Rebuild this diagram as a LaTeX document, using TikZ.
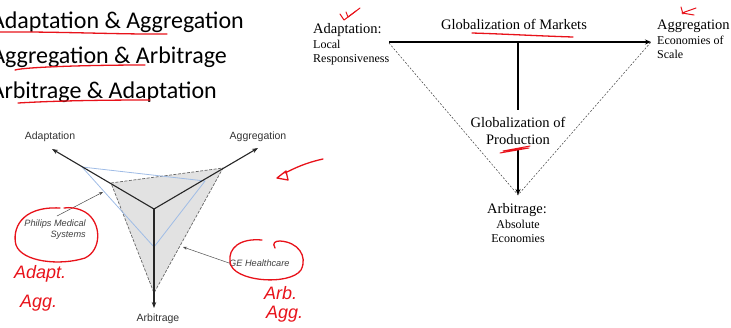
\documentclass[tikz,border=0pt]{standalone}
\usepackage{fontspec}
\setmainfont{Liberation Serif}
\newfontfamily\calibf{Carlito}
\newfontfamily\arialf{Liberation Sans}
\usetikzlibrary{arrows.meta}
\definecolor{inkred}{HTML}{E8121A}
\definecolor{polyblue}{HTML}{9FBCE6}
\definecolor{polygray}{HTML}{E2E2E2}
\begin{document}
\begin{tikzpicture}[x=1pt,y=-1pt,
  listtxt/.style={anchor=base east, inner sep=0pt, font=\calibf\fontsize{24}{24}\selectfont},
  redink/.style={draw=inkred, line width=1.3pt, line cap=round, line join=round},
  redtxt/.style={text=inkred, inner sep=0pt, font=\arialf\itshape\fontsize{18}{20}\selectfont},
  axislbl/.style={inner sep=0pt, text=black!80, font=\arialf\fontsize{10.5}{12}\selectfont},
  axisarrow/.style={line width=1.1pt, draw=black!85, -{Stealth[length=6pt,width=4.5pt]}},
  callout/.style={inner sep=0pt, text=black!75, font=\arialf\itshape\fontsize{9.2}{11}\selectfont},
  pointer/.style={line width=0.5pt, draw=black!70, -{Stealth[length=4pt,width=3pt]}},
  bigserif/.style={inner sep=0pt, font=\fontsize{14.5}{17}\selectfont},
  smallserif/.style={inner sep=0pt, font=\fontsize{12}{14}\selectfont},
  mainarrow/.style={line width=1.4pt, -{Stealth[length=6pt,width=5pt]}},
  thindash/.style={line width=0.5pt, draw=black!75, dash pattern=on 2pt off 1.6pt}
]
\useasboundingbox (0,0) rectangle (731,327);

% ---------- list at top left ----------
\node[listtxt] (l1) at (244,28) {Adaptation \& Aggregation};
\node[listtxt] (l2) at (227,63.5) {Aggregation \& Arbitrage};
\node[listtxt] (l3) at (217,98) {Arbitrage \& Adaptation};
\draw[redink] (0,32) .. controls (60,31.5) and (120,34.5) .. (167,34);
\draw[redink] (15,70) .. controls (25,67) and (90,65) .. (145,65);
\draw[redink] (18,103) .. controls (60,100.5) and (110,100) .. (150,100);

% ---------- left radar diagram ----------
\coordinate (C) at (154,209);
\coordinate (Ad) at (52,149);
\coordinate (Ag) at (258,148);
\coordinate (Ar) at (154,308);
\coordinate (G1) at (111,183);
\coordinate (G2) at (223,168);
\coordinate (G3) at (154,293);
\coordinate (B1) at (82,167);
\coordinate (B2) at (205,181);
\coordinate (B3) at (154,247);
\fill[polygray] (G1) -- (G2) -- (G3) -- cycle;
\draw[line width=0.7pt, draw=black!60, dash pattern=on 3pt off 1.5pt] (G1) -- (G2) -- (G3) -- cycle;
\draw[line width=0.8pt, draw=polyblue, line join=round] (B1) -- (B2) -- (B3) -- cycle;
\draw[axisarrow] (C) -- (Ad);
\draw[axisarrow] (C) -- (Ag);
\draw[axisarrow] (C) -- (Ar);
\node[axislbl] (adL) at (50,137) {Adaptation};
\node[axislbl] (agL) at (258,137) {Aggregation};
\node[axislbl] (arL) at (158,319) {Arbitrage};

\node[callout, align=right, anchor=east] (phil) at (86,230) {Philips Medical\\Systems};
\coordinate (philtip) at (103,192);
\draw[pointer] (57,216) -- (philtip);
\node[callout, anchor=west] (ge) at (229,263) {GE Healthcare};
\coordinate (getip) at (183,247);
\draw[pointer] (ge.west) -- (getip);

% red annotations on left diagram
\draw[redink] (60,208) .. controls (20,206) and (12,230) .. (16,245)
   .. controls (22,262) and (60,266) .. (85,258)
   .. controls (102,250) and (102,222) .. (85,212)
   .. controls (78,208) and (70,207) .. (64,208);
\node[redtxt, anchor=west] (adapt) at (14,274) {Adapt.};
\node[redtxt, anchor=west] (agg1) at (20,303) {Agg.};
\draw[redink] (262,240) .. controls (240,238) and (228,248) .. (230,262)
   .. controls (232,282) and (290,286) .. (301,270)
   .. controls (308,256) and (298,242) .. (280,241)
   .. controls (275,241) and (272,243) .. (275,248);
\node[redtxt, anchor=west] (arb) at (264,293) {Arb.};
\node[redtxt, anchor=west] (agg2) at (266,314) {Agg.};
\coordinate (rarrS) at (323,159);
\coordinate (rarrE) at (285,173);
\draw[redink] (rarrS) .. controls (305,163) and (295,168) .. (rarrE);
\draw[redink] (277,178) -- (286,171) -- (288,180) -- cycle;

% ---------- right diagram ----------
\node[bigserif, anchor=base west] (adR) at (313,33) {Adaptation:};
\node[smallserif, anchor=base west] (adR2) at (313,48) {Local};
\node[smallserif, anchor=base west] (adR3) at (313,62) {Responsiveness};
\node[bigserif, anchor=base] (gm) at (514,29) {Globalization of Markets};
\node[bigserif, anchor=base west] (agR) at (657,29) {Aggregation};
\node[smallserif, anchor=base west] (agR2) at (657,44) {Economies of};
\node[smallserif, anchor=base west] (agR3) at (657,58) {Scale};
\node[bigserif, anchor=base] (gp1) at (518,127) {Globalization of};
\node[bigserif, anchor=base] (gp2) at (518,144) {Production};
\node[bigserif, anchor=base] (arR) at (517,213) {Arbitrage:};
\node[smallserif, anchor=base] (arR2) at (518,228) {Absolute};
\node[smallserif, anchor=base] (arR3) at (518,242) {Economies};

\coordinate (hL) at (389,42);
\coordinate (hR) at (651,42);
\coordinate (hM) at (518,42);
\coordinate (vTop) at (518,110);
\coordinate (vBot) at (518,150);
\coordinate (vTip) at (518,195);
\draw[thindash] (389,43) -- (vTip) -- (hR);
\draw[mainarrow] (hL) -- (hR);
\draw[line width=1.4pt] (hM) -- (vTop);
\draw[mainarrow] (vBot) -- (vTip);

% red marks on right diagram
\draw[redink] (472,33) .. controls (505,34) and (540,36) .. (573,37);
\draw[redink, line width=1pt] (500,153) -- (529,148) -- (503,151) -- (530,146);
\draw[redink, line width=1pt] (340,14) -- (344,20) -- (360,8);
\draw[redink, line width=1pt] (346,12) -- (348,17) -- (356,11);
\draw[redink, line width=1pt] (696,8) -- (682,13) -- (694,15);
\draw[redink, line width=1pt] (681,7) -- (683,14);
\end{tikzpicture}
\end{document}
